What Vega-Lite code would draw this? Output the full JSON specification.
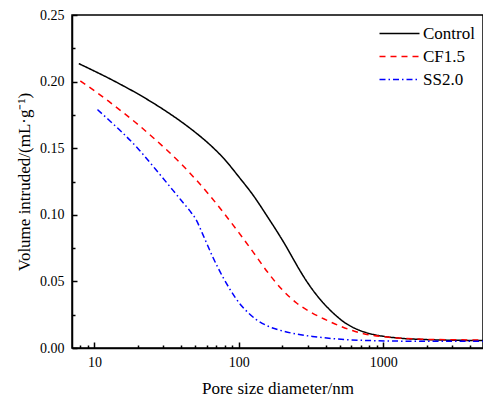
{
  "$schema": "https://vega.github.io/schema/vega-lite/v6.json",
  "autosize": "none",
  "width": 411,
  "height": 333,
  "padding": {"left": 72, "top": 15, "right": 0, "bottom": 49},
  "background": "white",
  "config": {
    "view": {"stroke": "black", "strokeWidth": 1.5},
    "font": "Liberation Serif, Times New Roman, serif",
    "axis": {
      "domainColor": "black", "domainWidth": 1.5, "tickColor": "black", "tickWidth": 1.5,
      "labelFont": "Liberation Serif, Times New Roman, serif", "labelFontSize": 14, "labelColor": "black",
      "titleFont": "Liberation Serif, Times New Roman, serif", "titleFontSize": 17, "titleFontWeight": "normal", "titleColor": "black",
      "grid": false
    },
    "legend": {
      "labelFont": "Liberation Serif, Times New Roman, serif", "labelFontSize": 17, "labelColor": "black"
    }
  },
  "data": {"values": [
    {"d": 7.8, "v": 0.2135, "s": "Control"},
    {"d": 10, "v": 0.2079, "s": "Control"},
    {"d": 12.6, "v": 0.2025, "s": "Control"},
    {"d": 15.85, "v": 0.1968, "s": "Control"},
    {"d": 20, "v": 0.1908, "s": "Control"},
    {"d": 25.1, "v": 0.1844, "s": "Control"},
    {"d": 31.6, "v": 0.1775, "s": "Control"},
    {"d": 39.8, "v": 0.170, "s": "Control"},
    {"d": 50.1, "v": 0.1618, "s": "Control"},
    {"d": 63.1, "v": 0.1526, "s": "Control"},
    {"d": 79.4, "v": 0.1418, "s": "Control"},
    {"d": 100, "v": 0.1285, "s": "Control"},
    {"d": 126, "v": 0.1145, "s": "Control"},
    {"d": 158, "v": 0.0985, "s": "Control"},
    {"d": 190, "v": 0.085, "s": "Control"},
    {"d": 214, "v": 0.0757, "s": "Control"},
    {"d": 240, "v": 0.0662, "s": "Control"},
    {"d": 269, "v": 0.0569, "s": "Control"},
    {"d": 302, "v": 0.0484, "s": "Control"},
    {"d": 339, "v": 0.0409, "s": "Control"},
    {"d": 380, "v": 0.0344, "s": "Control"},
    {"d": 427, "v": 0.0286, "s": "Control"},
    {"d": 479, "v": 0.0236, "s": "Control"},
    {"d": 537, "v": 0.0193, "s": "Control"},
    {"d": 603, "v": 0.016, "s": "Control"},
    {"d": 676, "v": 0.0135, "s": "Control"},
    {"d": 759, "v": 0.0116, "s": "Control"},
    {"d": 851, "v": 0.0102, "s": "Control"},
    {"d": 1000, "v": 0.0088, "s": "Control"},
    {"d": 1259, "v": 0.0075, "s": "Control"},
    {"d": 1995, "v": 0.0063, "s": "Control"},
    {"d": 3162, "v": 0.0058, "s": "Control"},
    {"d": 4900, "v": 0.0056, "s": "Control"},
    {"d": 8, "v": 0.2005, "s": "CF1.5"},
    {"d": 10, "v": 0.1931, "s": "CF1.5"},
    {"d": 12.6, "v": 0.1851, "s": "CF1.5"},
    {"d": 15.85, "v": 0.1767, "s": "CF1.5"},
    {"d": 20, "v": 0.1679, "s": "CF1.5"},
    {"d": 25.1, "v": 0.1586, "s": "CF1.5"},
    {"d": 31.6, "v": 0.1488, "s": "CF1.5"},
    {"d": 39.8, "v": 0.1383, "s": "CF1.5"},
    {"d": 50.1, "v": 0.1268, "s": "CF1.5"},
    {"d": 63.1, "v": 0.1143, "s": "CF1.5"},
    {"d": 79.4, "v": 0.1008, "s": "CF1.5"},
    {"d": 100, "v": 0.0866, "s": "CF1.5"},
    {"d": 126, "v": 0.0718, "s": "CF1.5"},
    {"d": 158, "v": 0.057, "s": "CF1.5"},
    {"d": 200, "v": 0.0437, "s": "CF1.5"},
    {"d": 251, "v": 0.0338, "s": "CF1.5"},
    {"d": 316, "v": 0.0268, "s": "CF1.5"},
    {"d": 398, "v": 0.0213, "s": "CF1.5"},
    {"d": 501, "v": 0.0165, "s": "CF1.5"},
    {"d": 631, "v": 0.0126, "s": "CF1.5"},
    {"d": 794, "v": 0.0100, "s": "CF1.5"},
    {"d": 1000, "v": 0.0085, "s": "CF1.5"},
    {"d": 1260, "v": 0.0075, "s": "CF1.5"},
    {"d": 1585, "v": 0.0069, "s": "CF1.5"},
    {"d": 2000, "v": 0.0065, "s": "CF1.5"},
    {"d": 3000, "v": 0.0062, "s": "CF1.5"},
    {"d": 4900, "v": 0.006, "s": "CF1.5"},
    {"d": 10.5, "v": 0.179, "s": "SS2.0"},
    {"d": 12.5, "v": 0.1715, "s": "SS2.0"},
    {"d": 15.7, "v": 0.1615, "s": "SS2.0"},
    {"d": 20.5, "v": 0.1485, "s": "SS2.0"},
    {"d": 26.7, "v": 0.1338, "s": "SS2.0"},
    {"d": 34.8, "v": 0.1187, "s": "SS2.0"},
    {"d": 40, "v": 0.1107, "s": "SS2.0"},
    {"d": 45.4, "v": 0.1035, "s": "SS2.0"},
    {"d": 50.5, "v": 0.0965, "s": "SS2.0"},
    {"d": 56.2, "v": 0.0855, "s": "SS2.0"},
    {"d": 65.9, "v": 0.0685, "s": "SS2.0"},
    {"d": 77.3, "v": 0.0535, "s": "SS2.0"},
    {"d": 86, "v": 0.0448, "s": "SS2.0"},
    {"d": 95.6, "v": 0.037, "s": "SS2.0"},
    {"d": 110, "v": 0.029, "s": "SS2.0"},
    {"d": 131.5, "v": 0.0215, "s": "SS2.0"},
    {"d": 160, "v": 0.0163, "s": "SS2.0"},
    {"d": 190, "v": 0.0135, "s": "SS2.0"},
    {"d": 250, "v": 0.0105, "s": "SS2.0"},
    {"d": 323, "v": 0.0087, "s": "SS2.0"},
    {"d": 420, "v": 0.0073, "s": "SS2.0"},
    {"d": 552, "v": 0.0063, "s": "SS2.0"},
    {"d": 800, "v": 0.0056, "s": "SS2.0"},
    {"d": 1219, "v": 0.0052, "s": "SS2.0"},
    {"d": 2000, "v": 0.005, "s": "SS2.0"},
    {"d": 4900, "v": 0.005, "s": "SS2.0"}
  ]},
  "mark": {"type": "line", "strokeWidth": 1.5, "interpolate": "monotone", "clip": true},
  "encoding": {
    "x": {
      "field": "d", "type": "quantitative",
      "scale": {"type": "log", "domain": [7, 4900], "nice": false},
      "axis": {
        "title": "Pore size diameter/nm",
        "values": [8, 9, 10, 20, 30, 40, 50, 60, 70, 80, 90, 100, 200, 300, 400, 500, 600, 700, 800, 900, 1000, 2000, 3000, 4000],
        "format": "d",
        "labelExpr": "indexof([10, 100, 1000], datum.value) >= 0 ? datum.label : ''",
        "tickSize": {"condition": {"test": "indexof([10, 100, 1000], datum.value) >= 0", "value": -6}, "value": -3},
        "labelPadding": 13,
        "labelFlush": false,
        "labelOverlap": false,
        "titlePadding": 8
      }
    },
    "y": {
      "field": "v", "type": "quantitative",
      "scale": {"domain": [0, 0.25], "nice": false, "zero": false},
      "axis": {
        "title": "Volume intruded/(mL·g⁻¹)",
        "values": [0, 0.025, 0.05, 0.075, 0.1, 0.125, 0.15, 0.175, 0.2, 0.225, 0.25],
        "labelExpr": "round(datum.value * 1000) % 50 == 0 ? format(datum.value, '.2f') : ''",
        "tickSize": {"condition": {"test": "round(datum.value * 1000) % 50 == 0", "value": -5}, "value": -3},
        "labelPadding": 13,
        "labelOverlap": false,
        "labelFlush": false,
        "titlePadding": 6
      }
    },
    "color": {
      "field": "s", "type": "nominal",
      "scale": {"domain": ["Control", "CF1.5", "SS2.0"], "range": ["#000000", "#ff0000", "#0000ff"]},
      "legend": {
        "title": null, "orient": "none", "legendX": 319, "legendY": 10,
        "symbolType": "M-5,0H5", "symbolSize": 64, "symbolStrokeWidth": 1.5,
        "labelOffset": 15, "rowPadding": 5, "padding": 0
      }
    },
    "strokeDash": {
      "field": "s", "type": "nominal",
      "scale": {"domain": ["Control", "CF1.5", "SS2.0"], "range": [[1, 0], [6, 5], [6, 3, 1.5, 3]]},
      "legend": {
        "title": null, "orient": "none", "legendX": 319, "legendY": 10,
        "symbolType": "M-5,0H5", "symbolSize": 64, "symbolStrokeWidth": 1.5,
        "labelOffset": 15, "rowPadding": 5, "padding": 0
      }
    }
  }
}
